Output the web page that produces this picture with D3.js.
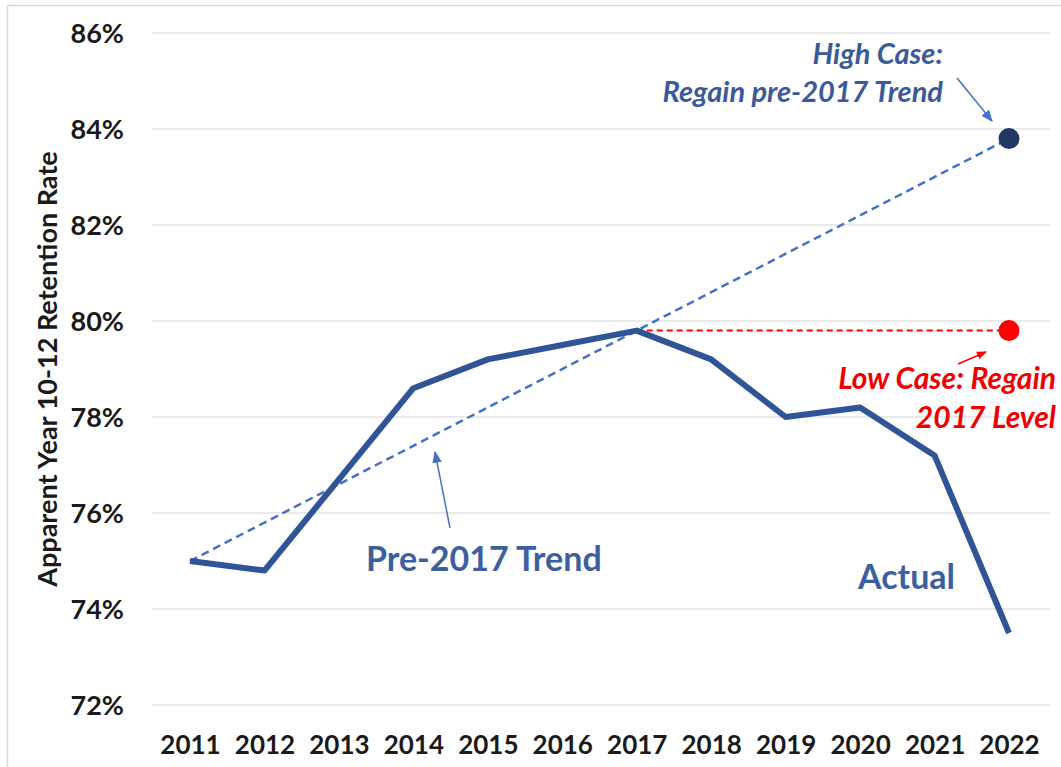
<!DOCTYPE html>
<html>
<head>
<meta charset="utf-8">
<script src="https://cdn.jsdelivr.net/npm/d3@7/dist/d3.min.js"></script>
<style>
  html, body { margin: 0; padding: 0; background: #fff; }
  svg { display: block; font-family: Lato, "Open Sans", sans-serif; }
</style>
</head>
<body>
<svg id="chart" width="1061" height="767"></svg>
<script>
// Apparent Year 10-12 retention rate, actual series and two scenarios
const years = [2011, 2012, 2013, 2014, 2015, 2016, 2017, 2018, 2019, 2020, 2021, 2022];
const actual = [75.0, 74.8, 76.7, 78.6, 79.2, 79.5, 79.8, 79.2, 78.0, 78.2, 77.2, 73.5];
const trendYears = [2011, 2022];
const trendValues = [75.0, 83.8];
const lowCaseYears = [2017, 2022];
const lowCaseValues = [79.8, 79.8];
const highCase = { year: 2022, value: 83.8 };
const lowCase = { year: 2022, value: 79.8 };
const yTicks = [72, 74, 76, 78, 80, 82, 84, 86];

const svg = d3.select("#chart");

// light frame around the figure
svg.append("rect")
  .attr("x", 7.5).attr("y", 5.5)
  .attr("width", 1070).attr("height", 780)
  .attr("fill", "none").attr("stroke", "#d9d9d9").attr("stroke-width", 1.5);

const x = d3.scalePoint().domain(years).range([190, 1009]);
const y = d3.scaleLinear().domain([72, 86]).range([705, 33]);

// horizontal gridlines
svg.append("g").selectAll("line")
  .data(yTicks).join("line")
  .attr("x1", 152).attr("x2", 1050)
  .attr("y1", d => y(d)).attr("y2", d => y(d))
  .attr("stroke", "#e3e3e3").attr("stroke-width", 1.5);

// y axis labels
const yAxis = d3.axisLeft(y).tickValues(yTicks).tickFormat(d => d + "%").tickSize(0).tickPadding(0);
const gy = svg.append("g").attr("transform", "translate(124,0)").call(yAxis);
gy.select(".domain").remove();
gy.selectAll("text")
  .attr("font-family", "Lato, sans-serif")
  .attr("font-size", 27).attr("font-weight", "bold").attr("fill", "#1a1a1a")
  .attr("dy", "0.35em");

// x axis labels
const xAxis = d3.axisBottom(x).tickSize(0).tickPadding(0);
const gx = svg.append("g").attr("transform", "translate(0,736)").call(xAxis);
gx.select(".domain").remove();
gx.selectAll("text")
  .attr("font-family", "Lato, sans-serif")
  .attr("font-size", 26).attr("font-weight", "bold").attr("fill", "#1a1a1a")
  .attr("dy", "0.7em");

// y axis title
svg.append("text")
  .attr("transform", "translate(57,369) rotate(-90)")
  .attr("text-anchor", "middle")
  .attr("font-size", 27).attr("font-weight", "bold").attr("fill", "#1a1a1a")
  .text("Apparent Year 10-12 Retention Rate");

const line = d3.line().x(d => x(d[0])).y(d => y(d[1]));

// pre-2017 trend (dashed)
svg.append("path")
  .datum(d3.zip(trendYears, trendValues))
  .attr("d", line)
  .attr("fill", "none").attr("stroke", "#4472c4").attr("stroke-width", 2.5)
  .attr("stroke-dasharray", "8,5");

// low case: hold at 2017 level (red dashed)
svg.append("path")
  .datum(d3.zip(lowCaseYears, lowCaseValues))
  .attr("d", line)
  .attr("fill", "none").attr("stroke", "#ff0000").attr("stroke-width", 2)
  .attr("stroke-dasharray", "6,4");

// actual series
svg.append("path")
  .datum(d3.zip(years, actual))
  .attr("d", line)
  .attr("fill", "none").attr("stroke", "#2f5597").attr("stroke-width", 6)
  .attr("stroke-linejoin", "round");

// scenario end points
svg.append("circle")
  .attr("cx", x(highCase.year)).attr("cy", y(highCase.value)).attr("r", 10.5)
  .attr("fill", "#1f3864");
svg.append("circle")
  .attr("cx", x(lowCase.year)).attr("cy", y(lowCase.value)).attr("r", 10.5)
  .attr("fill", "#ff0000");

// arrow markers
const defs = svg.append("defs");
function marker(id, color, size) {
  defs.append("marker")
    .attr("id", id).attr("viewBox", "0 0 10 10")
    .attr("refX", 9).attr("refY", 5)
    .attr("markerWidth", size).attr("markerHeight", size)
    .attr("markerUnits", "userSpaceOnUse")
    .attr("orient", "auto")
    .append("path").attr("d", "M0,1 L10,5 L0,9 Z").attr("fill", color);
}
marker("arrBlue", "#4472c4", 12);
marker("arrRed", "#ff0000", 10);

function arrow(x1, y1, x2, y2, color, id) {
  svg.append("line")
    .attr("x1", x1).attr("y1", y1).attr("x2", x2).attr("y2", y2)
    .attr("stroke", color).attr("stroke-width", 1.5)
    .attr("marker-end", `url(#${id})`);
}
arrow(450, 528, 435, 452, "#4472c4", "arrBlue");
arrow(957, 78, 992, 121, "#4472c4", "arrBlue");
arrow(958, 364, 986, 352, "#ff0000", "arrRed");

// annotations
svg.append("text")
  .attr("x", 366).attr("y", 571)
  .attr("font-size", 34).attr("font-weight", "bold").attr("fill", "#3c5f9e")
  .text("Pre-2017 Trend");

svg.append("text")
  .attr("x", 858).attr("y", 589)
  .attr("font-size", 34).attr("font-weight", "bold").attr("fill", "#3c5f9e")
  .text("Actual");

const high = svg.append("text")
  .attr("text-anchor", "end")
  .attr("font-size", 29).attr("font-weight", "bold").attr("font-style", "italic")
  .attr("fill", "#3a5a9a");
high.append("tspan").attr("x", 943).attr("y", 64).text("High Case:");
high.append("tspan").attr("x", 943).attr("y", 102).text("Regain pre-2017 Trend");

const low = svg.append("text")
  .attr("text-anchor", "end")
  .attr("font-size", 30).attr("font-weight", "bold").attr("font-style", "italic")
  .attr("fill", "#ee0000");
low.append("tspan").attr("x", 1056).attr("y", 389).text("Low Case: Regain");
low.append("tspan").attr("x", 1056).attr("y", 428).text("2017 Level");
</script>
</body>
</html>
